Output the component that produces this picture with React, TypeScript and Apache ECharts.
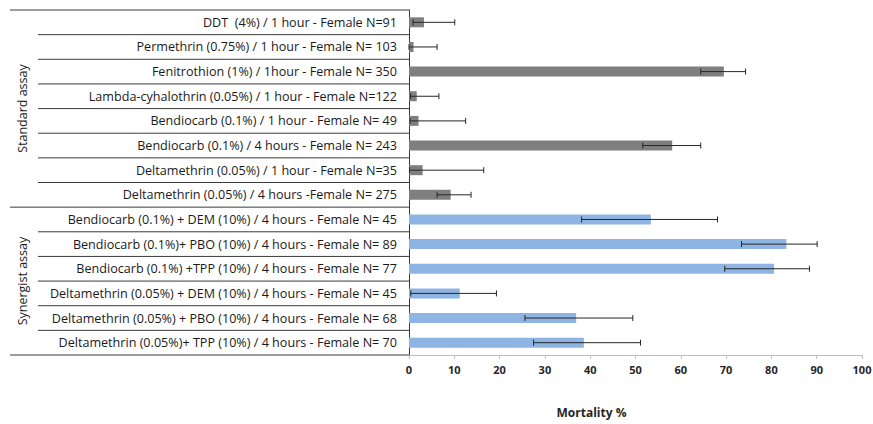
import React, { useEffect, useRef } from "react";
import * as echarts from "echarts";

const categories = [
  "DDT  (4%) / 1 hour - Female N=91",
  "Permethrin (0.75%) / 1 hour - Female N= 103",
  "Fenitrothion (1%) / 1hour - Female N= 350",
  "Lambda-cyhalothrin (0.05%) / 1 hour - Female N=122",
  "Bendiocarb (0.1%) / 1 hour - Female N= 49",
  "Bendiocarb (0.1%) / 4 hours - Female N= 243",
  "Deltamethrin (0.05%) / 1 hour - Female N=35",
  "Deltamethrin (0.05%) / 4 hours -Female N= 275",
  "Bendiocarb (0.1%) + DEM (10%) / 4 hours - Female N= 45",
  "Bendiocarb (0.1%)+ PBO (10%) / 4 hours - Female N= 89",
  "Bendiocarb (0.1%) +TPP (10%) / 4 hours - Female N= 77",
  "Deltamethrin (0.05%) + DEM (10%) / 4 hours - Female N= 45",
  "Deltamethrin (0.05%) + PBO (10%) / 4 hours - Female N= 68",
  "Deltamethrin (0.05%)+ TPP (10%) / 4 hours - Female N= 70",
];

const mortality = [3.3, 1.0, 69.5, 1.7, 2.1, 58.1, 3.0, 9.2, 53.4, 83.3, 80.6, 11.2, 36.9, 38.6];
const lowerCI = [0.9, 0.0, 64.4, 0.3, 0.2, 51.6, 0.1, 6.2, 38.1, 73.4, 69.7, 0.4, 25.6, 27.5];
const upperCI = [10.1, 6.2, 74.3, 6.6, 12.5, 64.4, 16.5, 13.7, 68.1, 90.1, 88.4, 19.3, 49.4, 51.1];

const groupNames = ["Standard assay", "Synergist assay"];
const groupStart = [0, 8];
const groupEnd = [7, 13];

const xMin = 0;
const xMax = 100;
const xStep = 10;
const xTitle = "Mortality %";

const FONT = "'Open Sans', sans-serif";
const GREY = "#7f7f7f";
const BLUE = "#8db4e2";
const LINE = "#3a3a3a";

function groupOf(i: number) {
  for (let g = 0; g < groupStart.length; g++) {
    if (i >= groupStart[g] && i <= groupEnd[g]) return g;
  }
  return 0;
}

export default function App() {
  const ref = useRef<HTMLDivElement>(null);

  useEffect(() => {
    document.body.style.margin = "0";
    if (!ref.current) return;
    const chart = echarts.init(ref.current, undefined, { renderer: "svg" });

    const boundaryData: number[][] = [];
    for (let i = 0; i < categories.length; i++) {
      boundaryData.push([0, i, -1, groupStart.indexOf(i) >= 0 ? 1 : 0]);
    }
    boundaryData.push([0, categories.length - 1, 1, 1]);

    const groupData = groupNames.map((_, g) => [0, groupStart[g], groupEnd[g]]);

    const option: any = {
      animation: false,
      grid: {
        left: 409,
        right: 11,
        top: 10,
        bottom: 69,
        containLabel: false,
        outerBoundsMode: "none",
      },
      xAxis: {
        type: "value",
        min: xMin,
        max: xMax,
        interval: xStep,
        name: xTitle,
        nameLocation: "middle",
        nameGap: 51,
        nameTextStyle: {
          fontFamily: FONT,
          fontSize: 12,
          fontWeight: "bold",
          color: "#262626",
          padding: [0, 88, 0, 0],
        },
        axisLine: { show: true, lineStyle: { color: "#bfbfbf", width: 1 } },
        axisTick: { show: true, length: 4, lineStyle: { color: "#bfbfbf" } },
        axisLabel: { fontFamily: FONT, fontSize: 11, fontWeight: "bold", color: "#262626", margin: 9 },
        splitLine: { show: false },
      },
      yAxis: {
        type: "category",
        inverse: true,
        data: categories,
        axisLine: { show: true, lineStyle: { color: LINE, width: 1 } },
        axisTick: { show: false },
        axisLabel: { fontFamily: FONT, fontSize: 12.6, color: "#1a1a1a", margin: 12 },
        splitLine: { show: false },
      },
      series: [
        {
          type: "bar",
          data: mortality,
          barWidth: 10,
          itemStyle: {
            color: (p: any) => (groupOf(p.dataIndex) === 0 ? GREY : BLUE),
          },
          z: 2,
        },
        {
          type: "custom",
          data: mortality.map((_, i) => [lowerCI[i], upperCI[i], i]),
          encode: { x: [0, 1], y: 2 },
          z: 3,
          renderItem: (params: any, api: any) => {
            const lo = api.coord([api.value(0), api.value(2)]);
            const hi = api.coord([api.value(1), api.value(2)]);
            const h = 3;
            const style = { stroke: "#262626", lineWidth: 1 };
            return {
              type: "group",
              children: [
                { type: "line", shape: { x1: lo[0], y1: lo[1], x2: hi[0], y2: hi[1] }, style },
                { type: "line", shape: { x1: lo[0], y1: lo[1] - h, x2: lo[0], y2: lo[1] + h }, style },
                { type: "line", shape: { x1: hi[0], y1: hi[1] - h, x2: hi[0], y2: hi[1] + h }, style },
              ],
            };
          },
        },
        {
          type: "custom",
          data: boundaryData,
          encode: { x: 0, y: 1 },
          clip: false,
          silent: true,
          z: 4,
          renderItem: (params: any, api: any) => {
            const p = api.coord([api.value(0), api.value(1)]);
            const band = api.size([0, 1])[1];
            const y = p[1] + (api.value(2) * band) / 2;
            const x1 = api.value(3) === 1 ? 10 : 38;
            return {
              type: "line",
              shape: { x1, y1: y, x2: p[0], y2: y },
              style: { stroke: LINE, lineWidth: 1 },
            };
          },
        },
        {
          type: "custom",
          data: groupData,
          encode: { x: 0, y: [1, 2] },
          clip: false,
          silent: true,
          z: 4,
          renderItem: (params: any, api: any) => {
            const a = api.coord([0, api.value(1)]);
            const b = api.coord([0, api.value(2)]);
            const cy = (a[1] + b[1]) / 2;
            return {
              type: "text",
              x: 22,
              y: cy,
              rotation: Math.PI / 2,
              style: {
                text: groupNames[params.dataIndex],
                fontFamily: FONT,
                fontSize: 12.5,
                fill: "#1a1a1a",
                align: "center",
                verticalAlign: "middle",
              },
            };
          },
        },
      ],
    };

    chart.setOption(option);
    return () => chart.dispose();
  }, []);

  return <div ref={ref} style={{ width: 873, height: 424 }} />;
}
